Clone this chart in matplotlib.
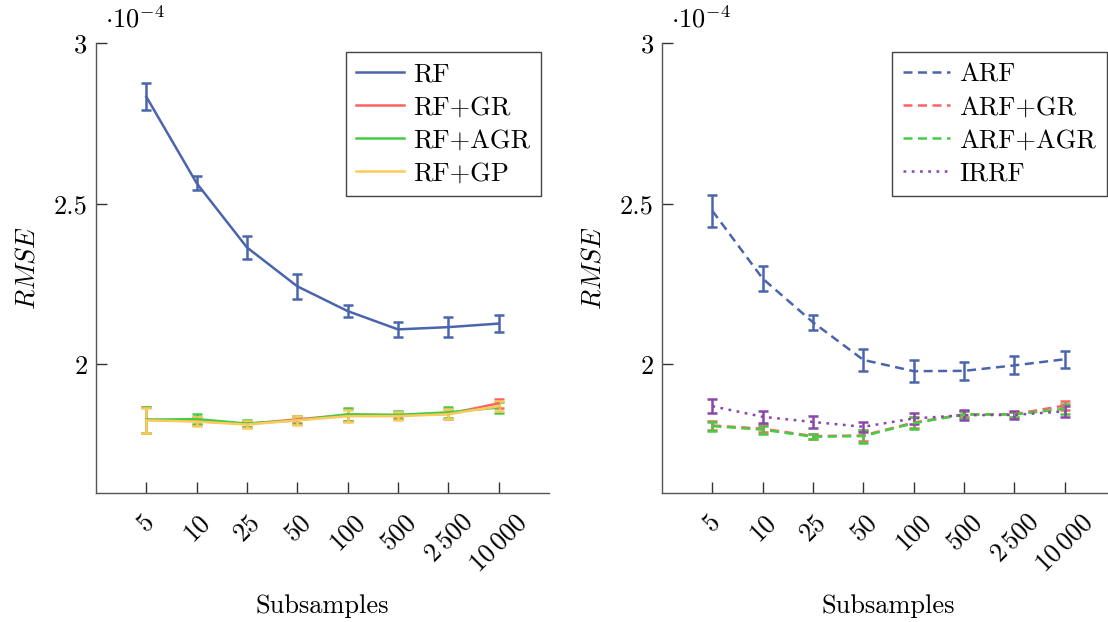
import matplotlib
matplotlib.use('Agg')
import matplotlib.pyplot as plt
import matplotlib.ticker as ticker
from matplotlib.lines import Line2D

plt.rcParams['font.family'] = 'serif'
plt.rcParams['font.serif'] = ['cmr10']
plt.rcParams['mathtext.fontset'] = 'cm'
plt.rcParams['axes.formatter.use_mathtext'] = True
plt.rcParams['axes.unicode_minus'] = False

# RMSE values, in units of 1e-4
subsamples = ['5', '10', '25', '50', '100', '500', r'$2\,500$', r'$10\,000$']

rf = [2.833, 2.564, 2.364, 2.243, 2.166, 2.109, 2.116, 2.127]
rf_err = [0.041, 0.021, 0.037, 0.039, 0.018, 0.023, 0.030, 0.027]
rf_gr = [1.828, 1.824, 1.815, 1.829, 1.843, 1.842, 1.846, 1.879]
rf_gr_err = [0.040, 0.012, 0.010, 0.012, 0.018, 0.010, 0.015, 0.014]
rf_agr = [1.828, 1.830, 1.816, 1.826, 1.845, 1.843, 1.851, 1.866]
rf_agr_err = [0.040, 0.015, 0.010, 0.012, 0.020, 0.012, 0.018, 0.016]
rf_gp = [1.826, 1.822, 1.813, 1.826, 1.839, 1.839, 1.845, 1.870]
rf_gp_err = [0.039, 0.015, 0.010, 0.013, 0.019, 0.012, 0.016, 0.016]

arf = [2.478, 2.267, 2.131, 2.014, 1.979, 1.980, 1.997, 2.016]
arf_err = [0.050, 0.039, 0.024, 0.035, 0.034, 0.027, 0.028, 0.027]
arf_gr = [1.810, 1.800, 1.777, 1.779, 1.819, 1.845, 1.845, 1.872]
arf_gr_err = [0.013, 0.010, 0.008, 0.018, 0.016, 0.010, 0.008, 0.014]
arf_agr = [1.808, 1.797, 1.775, 1.777, 1.817, 1.844, 1.844, 1.862]
arf_agr_err = [0.014, 0.012, 0.008, 0.020, 0.018, 0.010, 0.008, 0.016]
irrf = [1.870, 1.837, 1.821, 1.806, 1.832, 1.842, 1.843, 1.854]
irrf_err = [0.022, 0.018, 0.018, 0.015, 0.018, 0.016, 0.012, 0.017]

blue = '#4a65ad'
red = '#ff6262'
green = '#45cc45'
yellow = '#ffc95c'
purple = '#8b46ae'
dashed = (0, (3.6, 2.2))
dotted = (0, (1.1, 2.2))
lineWidth = 1.8

fontSize = 19
fig = plt.figure(figsize=(11.08, 6.22), dpi=100)
axLeft = fig.add_axes([0.0866, 0.2074, 0.4088, 0.7235])
axRight = fig.add_axes([0.5975, 0.2074, 0.4088, 0.7235])

x = list(range(len(subsamples)))


def draw(ax, mean, err, color, ls):
    ax.errorbar(x, mean, yerr=err, color=color, ls=ls, lw=lineWidth,
                elinewidth=lineWidth, capsize=3.8, capthick=lineWidth)
    return Line2D([0], [0], color=color, ls=ls, lw=lineWidth)


leftHandles = [draw(axLeft, rf, rf_err, blue, '-'),
               draw(axLeft, rf_gr, rf_gr_err, red, '-'),
               draw(axLeft, rf_agr, rf_agr_err, green, '-'),
               draw(axLeft, rf_gp, rf_gp_err, yellow, '-')]
leftLabels = ['RF', 'RF+GR', 'RF+AGR', 'RF+GP']

rightHandles = [draw(axRight, arf, arf_err, blue, dashed),
                draw(axRight, arf_gr, arf_gr_err, red, dashed),
                draw(axRight, arf_agr, arf_agr_err, green, dashed),
                draw(axRight, irrf, irrf_err, purple, dotted)]
rightLabels = ['ARF', 'ARF+GR', 'ARF+AGR', 'IRRF']

for ax, handles, labels in [(axLeft, leftHandles, leftLabels),
                            (axRight, rightHandles, rightLabels)]:
    ax.set_xlim(-1, 8)
    ax.set_ylim(1.6, 3.0)
    ax.spines['right'].set_visible(False)
    ax.spines['top'].set_visible(False)
    for s in ['left', 'bottom']:
        ax.spines[s].set_color('#555555')
        ax.spines[s].set_linewidth(1.0)
    ax.set_xticks(x)
    ax.set_xticklabels(subsamples, rotation=45, ha='center', va='top')
    ax.yaxis.set_major_locator(ticker.FixedLocator([2, 2.5, 3]))
    ax.yaxis.set_major_formatter(ticker.FuncFormatter(lambda v, p: '%g' % v))
    ax.tick_params(axis='both', direction='in', length=8, width=1.0,
                   color='#333333', labelsize=fontSize)
    ax.tick_params(axis='x', pad=12)
    ax.tick_params(axis='y', pad=6)
    ax.set_xlabel('Subsamples', fontsize=fontSize)
    ax.xaxis.set_label_coords(0.5, -0.225)
    ax.set_ylabel(r'$RMSE$', fontsize=fontSize)
    ax.yaxis.set_label_coords(-0.125, 0.5)
    ax.text(0.02, 1.035, r'$\cdot 10^{-4}$', transform=ax.transAxes,
            fontsize=fontSize, va='baseline', ha='left')
    leg = ax.legend(handles, labels, loc='upper right', bbox_to_anchor=(0.982, 0.98),
                    borderaxespad=0, fontsize=fontSize, handlelength=1.8,
                    handletextpad=0.35, labelspacing=0.35, fancybox=False,
                    framealpha=1, borderpad=0.4)
    leg.get_frame().set_edgecolor('#444444')
    leg.get_frame().set_linewidth(1.0)

fig.savefig('out.png', dpi=100)
